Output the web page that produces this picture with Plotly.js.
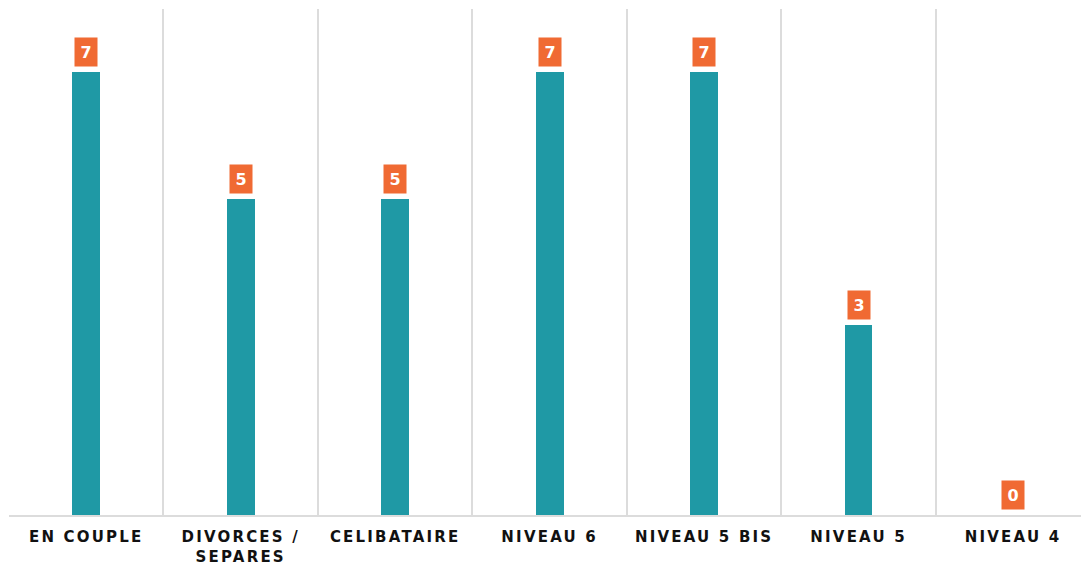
<!DOCTYPE html>
<html>
<head>
<meta charset="utf-8">
<script src="https://cdn.plot.ly/plotly-3.0.1.min.js"></script>
<style>
  html, body { margin: 0; padding: 0; background: #fff; }
  #chart { width: 1081px; height: 564px; }
  .xtick text { letter-spacing: 2.2px; }
</style>
</head>
<body>
<div id="chart"></div>
<script>
const categories = ["EN COUPLE", "DIVORCES /<br>SEPARES", "CELIBATAIRE", "NIVEAU 6", "NIVEAU 5 BIS", "NIVEAU 5", "NIVEAU 4"];
const values = [7, 5, 5, 7, 7, 3, 0];
const labels = ["7", "5", "5", "7", "7", "3", "0"];

const trace = {
  type: "bar",
  x: categories,
  y: values,
  width: 0.18,
  marker: { color: "#1F99A5", line: { width: 0 } },
  hoverinfo: "skip"
};

const annotations = categories.map((c, i) => ({
  x: c,
  y: values[i],
  xref: "x",
  yref: "y",
  text: "<b>" + labels[i] + "</b>",
  showarrow: false,
  yanchor: "bottom",
  xanchor: "center",
  yshift: 5,
  bgcolor: "#F06A33",
  borderpad: 0,
  width: 22,
  height: 28,
  font: { family: "DejaVu Sans, sans-serif", size: 16, color: "#ffffff" }
}));

const layout = {
  width: 1081,
  height: 564,
  margin: { l: 9, r: 0, t: 9, b: 49 },
  paper_bgcolor: "#ffffff",
  plot_bgcolor: "#ffffff",
  showlegend: false,
  bargap: 0,
  xaxis: {
    type: "category",
    range: [-0.5, 6.44],
    tickson: "boundaries",
    showgrid: true,
    gridcolor: "#dcdcdc",
    gridwidth: 2,
    ticks: "",
    showline: true,
    linecolor: "#dcdcdc",
    linewidth: 2,
    zeroline: false,
    ticklabelstandoff: 7,
    tickfont: { family: "DejaVu Sans, sans-serif", size: 15, color: "#111111", weight: 700 },
    automargin: false
  },
  yaxis: {
    range: [0, 8],
    showgrid: false,
    zeroline: false,
    showticklabels: false,
    ticks: "",
    showline: false
  },
  annotations: annotations
};

Plotly.newPlot("chart", [trace], layout, { displayModeBar: false, staticPlot: true });
</script>
</body>
</html>
